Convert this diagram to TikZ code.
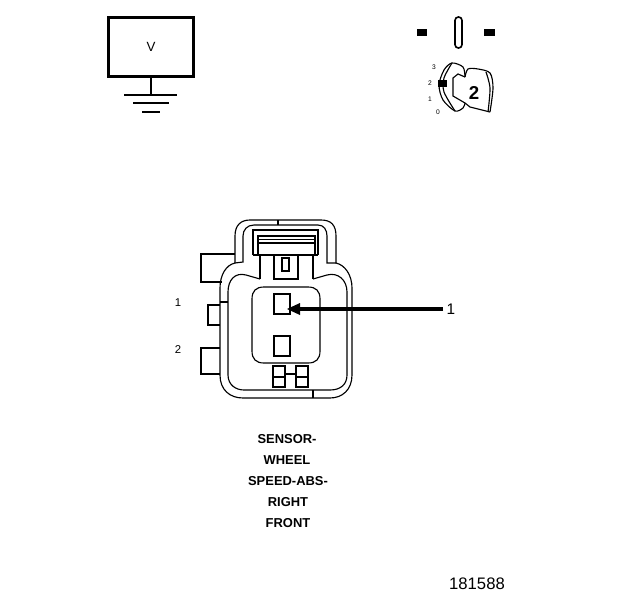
\documentclass[tikz,border=0pt]{standalone}
\usepackage{fontspec}
\setmainfont{Liberation Sans}
\usetikzlibrary{positioning}
\tikzset{
  lbl/.style={inner sep=0pt,font=\fontsize{8.5}{10}\selectfont},
  namelbl/.style={inner sep=0pt,font=\fontsize{9.7}{11}\selectfont\bfseries},
  keynum/.style={inner sep=0pt,font=\fontsize{5}{6}\selectfont},
  blk/.style={fill=black,draw=none},
  pinbox/.style={draw,minimum width=12pt,minimum height=15pt,inner sep=0pt},
}
\begin{document}
\begin{tikzpicture}[x=.75pt,y=-.75pt,line width=.85pt]
\useasboundingbox (0,0) rectangle (624,600);

% ground box
\node (vbox) at (151,47) [draw,line width=2pt,minimum width=63.5pt,minimum height=44pt,inner sep=0pt,font=\fontsize{10}{11}\selectfont] {V};
\coordinate (g0) at (151,95);
\draw[line width=1.2pt] (vbox.south) -- (g0);
\draw[line width=1.2pt] (124,95) -- (177,95);
\draw[line width=2pt] (133,103) -- (169,103);
\draw[line width=1.4pt] (142,112) -- (160,112);

% key position
\fill[blk] (417,29) rectangle (427,36);
\fill[blk] (484,29) rectangle (495,36);
\draw[line width=1.2pt,rounded corners=2.5pt] (455,17) rectangle (462,48);
\draw plot[smooth] coordinates {(465,77) (463,67) (452,63) (444,70) (439,85) (443,100) (455,111) (463,108) (465,103)};
\draw (465,103) -- (453,96) -- (453,78) -- (458,74) -- (465,77);
\draw plot[smooth] coordinates {(452,63) (444,78) (444,92) (455,111)};
\draw plot[smooth] coordinates {(465,77) (468,69) (478,69) (490,73) (493,88) (490,112)};
\draw plot[smooth] coordinates {(486,72) (490,88) (488,112)};
\draw (490,112) -- (470,107) -- (465,103);
\fill[blk] (438,80) rectangle (447,87);
\node (k3) at (434,67) [keynum] {3};
\node (k2) at (430,83) [keynum] {2};
\node (k1) at (430,99) [keynum] {1};
\node (k0) at (438,112) [keynum] {0};
\node (knum) at (474,93) [inner sep=0pt,font=\fontsize{14}{16}\selectfont\bfseries] {2};

% connector body
\draw (235,263) -- (235,236) .. controls (235,225) and (241,220) .. (250,220)
  -- (321,220) .. controls (331,220) and (336,225) .. (336,236) -- (336,263)
  .. controls (345,265) and (352,275) .. (352,288) -- (352,375)
  .. controls (352,390) and (342,398) .. (330,398) -- (243,398)
  .. controls (230,398) and (220,390) .. (220,375) -- (220,288)
  .. controls (220,275) and (226,265) .. (235,263);
\draw (235,263) -- (243,262) -- (243,236) .. controls (243,230) and (247,225) .. (254,225)
  -- (318,225) .. controls (324,225) and (327,230) .. (327,236) -- (327,263) -- (336,263);
\draw (260,279) -- (246,275) .. controls (235,272) and (228,280) .. (228,292) -- (228,375)
  .. controls (228,385) and (236,390) .. (244,390) -- (330,390)
  .. controls (341,390) and (347,384) .. (347,375) -- (347,292)
  .. controls (347,280) and (338,272) .. (327,275) -- (313,279);
\draw (260,279) -- (260,255);
\draw (313,279) -- (313,255);
\draw (278,220) -- (278,225);
\draw (313,390) -- (313,398);
\draw (220,302) -- (228,302);

% latch
\draw (253,255) -- (253,230) -- (318,230) -- (318,255);
\draw (258,255) -- (258,236) -- (315,236) -- (315,255);
\draw (258,239.5) -- (315,239.5);
\draw (258,243) -- (315,243);
\draw (253,255) -- (318,255);

% center keys
\draw (274,255) rectangle (298,279);
\draw (282,258) rectangle (289,271);
\draw (252,299) .. controls (252,291) and (256,287) .. (264,287) -- (308,287)
  .. controls (316,287) and (320,291) .. (320,299) -- (320,351)
  .. controls (320,359) and (316,363) .. (308,363) -- (264,363)
  .. controls (256,363) and (252,359) .. (252,351) -- cycle;

% pins
\node (pin1) at (282,304) [pinbox] {};
\node (pin2) at (282,346) [pinbox] {};
\draw (273,366) rectangle (285,387);
\draw (296,366) rectangle (308,387);
\draw (273,377) -- (285,377);
\draw (296,377) -- (308,377);
\draw (285,374) -- (296,374);

% side tabs
\draw (235,254) -- (201,254) -- (201,282) -- (222,282);
\draw (220,305) -- (208,305) -- (208,325) -- (220,325);
\draw (220,348) -- (201,348) -- (201,374) -- (220,374);
\node (s1) at (178,303) [lbl] {1};
\node (s2) at (178,350) [lbl] {2};

% arrow
\node (c1) at (451,309) [inner sep=0pt,font=\fontsize{11.5}{13}\selectfont] {1};
\coordinate (tip) at (296,309);
\draw[line width=2.4pt] (c1.west) ++(-3,0) -- (tip);
\fill[blk] (287,309) -- (300,303) -- (300,315) -- cycle;

% name
\node (n0) at (287,439) [namelbl] {SENSOR-};
\node (n1) at (287,460) [namelbl] {WHEEL};
\node (n2) at (288,481) [namelbl] {SPEED-ABS-};
\node (n3) at (288,502) [namelbl] {RIGHT};
\node (n4) at (288,523) [namelbl] {FRONT};

\node (num) at (477,584) [inner sep=0pt,font=\fontsize{12.5}{14}\selectfont] {181588};
\end{tikzpicture}
\end{document}
